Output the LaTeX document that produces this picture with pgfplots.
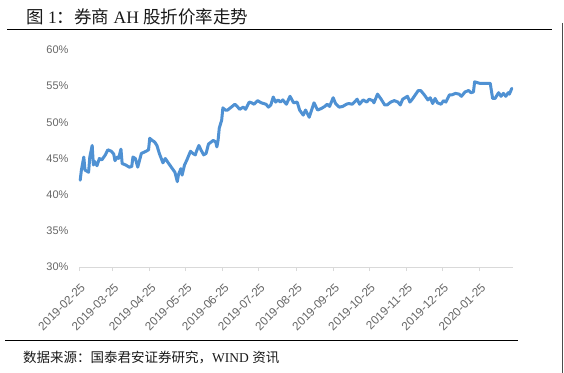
\documentclass[border=0pt]{standalone}
\usepackage{fontspec}
\setmainfont{Liberation Serif}
\newfontfamily\cjk{Noto Sans CJK SC}
\newfontfamily\lab{Liberation Sans}
\usepackage{pgfplots}
\pgfplotsset{compat=1.18}
\definecolor{lineblue}{HTML}{4F91D3}
\definecolor{labgray}{HTML}{666666}
\definecolor{axgray}{HTML}{D9D9D9}
\begin{document}
\begin{tikzpicture}
\useasboundingbox (0bp,0bp) rectangle (564bp,373bp);
\node[anchor=west, inner sep=0, text=black!90] at (26bp,356bp) {\fontsize{17.5bp}{19bp}\selectfont{\cjk 图} 1{\cjk ：券商} AH {\cjk 股折价率走势}};
\draw[black, line width=1.1bp] (7bp,343.7bp) -- (552bp,343.7bp);
\draw[black, line width=1.1bp] (5bp,32.3bp) -- (518bp,32.3bp);
\draw[black!70, line width=0.8bp] (562.5bp,350bp) -- (562.5bp,0bp);
\node[anchor=west, inner sep=0, text=black!90] at (23bp,15bp) {\fontsize{13.5bp}{15bp}\selectfont{\cjk 数据来源：国泰君安证券研究，}WIND {\cjk 资讯}};
\begin{axis}[
  at={(79bp,106bp)}, anchor=south west,
  width=434bp, height=217bp, scale only axis,
  xmin=0, xmax=362, ymin=30, ymax=60,
  axis x line=bottom, axis y line=left,
  x axis line style={draw=axgray, line width=0.8bp, -},
  y axis line style={draw=none},
  ytick={30,35,40,45,50,55,60},
  yticklabel={\pgfmathprintnumber{\tick}\%},
  ytick style={draw=none},
  xtick={0,28,59,89,120,150,181,212,242,273,303,334},
  xticklabels={2019-02-25,2019-03-25,2019-04-25,2019-05-25,2019-06-25,2019-07-25,2019-08-25,2019-09-25,2019-10-25,2019-11-25,2019-12-25,2020-01-25},
  xtick style={draw=axgray, line width=0.8bp},
  tick align=outside, major tick length=4bp,
  /pgf/number format/assume math mode=true,
  ticklabel style={font=\lab\fontsize{11bp}{13bp}\selectfont, text=labgray},
  yticklabel style={xshift=-3bp},
  xticklabel style={rotate=45, anchor=east, xshift=-4bp, yshift=-13bp, font=\lab\fontsize{11.8bp}{13bp}\selectfont},
  clip=false,
]
\addplot[lineblue, line width=3bp, line join=round, line cap=round] coordinates {
(1,42.0)(2,43.4)(4,45.2)(5,43.4)(8,43.1)(9,45.2)(11,46.8)(12,44.1)(13,44.6)(15,44.0)
(17,45.0)(19,44.8)(22,45.5)(24,46.2)(27,46.0)(29,45.6)(30,44.7)(32,45.2)(33,45.0)(35,46.3)
(36,44.3)(39,44.1)(42,43.8)(44,43.9)(45,45.2)(47,45.0)(49,43.8)(52,45.7)(56,46.0)(58,46.2)
(59,47.8)(61,47.5)(63,47.3)(65,46.8)(67,45.7)(70,44.4)(72,45.0)(74,44.5)(77,43.8)(80,43.1)
(82,41.8)(83,42.8)(85,43.6)(86,42.7)(88,44.1)(90,44.8)(93,46.0)(95,45.7)(97,45.5)(98,46.0)
(100,46.8)(102,46.1)(104,45.5)(106,45.7)(108,47.0)(112,47.5)(114,47.3)(115,46.6)(116,47.5)(117,49.2)
(119,50.3)(120,52.0)(122,51.7)(124,51.7)(127,52.1)(130,52.5)(132,52.2)(134,51.8)(137,52.1)(139,51.8)
(142,52.8)(144,52.7)(146,52.5)(149,53.0)(152,52.7)(156,52.5)(158,52.1)(160,52.4)(162,53.5)(164,52.8)
(166,53.1)(168,52.8)(170,53.1)(173,52.5)(176,53.6)(179,52.7)(182,52.8)(184,51.7)(187,51.0)(189,51.7)
(192,50.7)(194,51.7)(196,52.7)(199,51.7)(202,51.9)(205,52.2)(207,52.5)(209,52.2)(212,53.4)(214,52.6)
(217,52.1)(220,52.2)(223,52.5)(225,52.6)(228,52.5)(232,53.2)(234,52.5)(237,53.1)(240,52.8)(242,53.2)
(245,53.0)(246,52.7)(249,53.9)(252,53.2)(255,52.4)(257,52.4)(260,52.8)(263,53.0)(266,52.8)(268,52.4)
(270,53.2)(274,53.6)(276,52.8)(278,53.2)(283,54.4)(285,54.4)(288,53.8)(291,53.1)(293,53.4)(295,52.6)
(297,53.3)(299,52.7)(302,52.5)(304,53.0)(306,52.8)(309,53.8)(311,53.8)(314,54.0)(317,53.9)(319,53.6)
(322,54.2)(325,54.4)(327,54.1)(329,54.2)(330,55.6)(334,55.4)(338,55.4)(343,55.4)(345,53.3)(347,53.3)
(350,54.1)(352,53.6)(354,54.0)(356,53.6)(358,54.1)(359,53.9)(361,54.7)
};
\end{axis}
\end{tikzpicture}
\end{document}
